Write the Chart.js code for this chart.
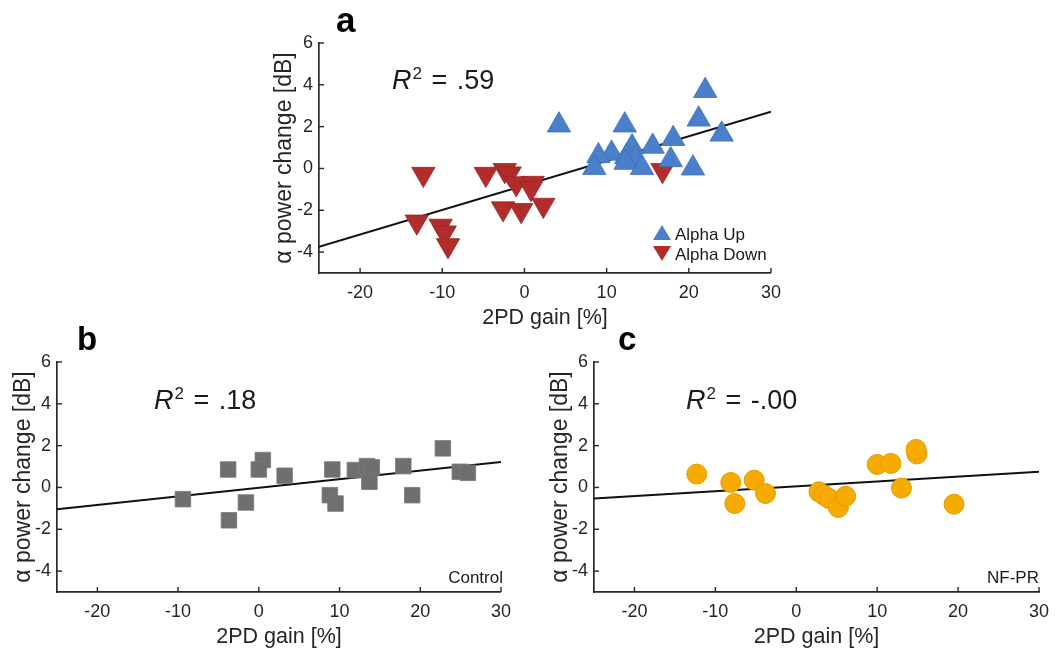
<!DOCTYPE html>
<html><head><meta charset="utf-8">
<script src="https://cdn.jsdelivr.net/npm/chart.js@4.4.1/dist/chart.umd.min.js"></script>
<style>
body{margin:0;background:#fff;width:1062px;height:653px;position:relative;overflow:hidden;font-family:"Liberation Sans",Arial,sans-serif;}
.box{position:absolute;}
.t{position:absolute;color:#1a1a1a;white-space:nowrap;line-height:1;}
.r2{font-size:27px;word-spacing:2px;}
.r2 i{font-style:italic;}
.r2 .s{font-size:17px;position:relative;top:-10px;margin-left:1px;}
.lett{font-weight:bold;color:#000;}
.tri{position:absolute;width:0;height:0;border-left:9px solid transparent;border-right:9px solid transparent;}
</style></head><body>
<div class="box" style="left:250px;top:0;width:540px;height:335px"><canvas id="cA"></canvas></div>
<div class="box" style="left:0;top:325px;width:520px;height:328px"><canvas id="cB"></canvas></div>
<div class="box" style="left:537px;top:325px;width:525px;height:328px"><canvas id="cC"></canvas></div>

<div class="t lett" style="left:336px;top:2px;font-size:35px">a</div>
<div class="t lett" style="left:77px;top:322px;font-size:33px">b</div>
<div class="t lett" style="left:618px;top:322px;font-size:33px">c</div>

<div class="t r2" style="left:392px;top:67px"><i>R</i><span class="s">2</span> = .59</div>
<div class="t r2" style="left:154px;top:387px"><i>R</i><span class="s">2</span> = .18</div>
<div class="t r2" style="left:686px;top:387px"><i>R</i><span class="s">2</span> = -.00</div>

<div class="tri" style="left:653px;top:225px;border-bottom:15px solid #4a7fcc"></div>
<div class="t" style="left:675px;top:226px;font-size:17px">Alpha Up</div>
<div class="tri" style="left:653px;top:246px;border-top:15px solid #b22c2c"></div>
<div class="t" style="left:675px;top:246px;font-size:17px">Alpha Down</div>

<div class="t" style="left:403px;top:569px;width:100px;text-align:right;font-size:17px">Control</div>
<div class="t" style="left:939px;top:569px;width:100px;text-align:right;font-size:17px">NF-PR</div>

<script>
// ---- data ----
const xTicks = [-20, -10, 0, 10, 20, 30];
const yTicks = [-4, -2, 0, 2, 4, 6];

// panel a
const upX = [4.2, 22.0, 21.2, 12.2, 24.0, 18.1, 15.6, 13.1, 10.6, 9.0, 12.4, 13.5, 12.3, 17.8, 8.5, 14.3, 20.5];
const upY = [2.07, 3.72, 2.35, 2.07, 1.63, 1.42, 1.05, 1.03, 0.72, 0.60, 0.56, 0.48, 0.28, 0.41, 0.03, 0.03, 0.01];
const downX = [-12.3, -4.7, -2.4, -1.8, -1.0, 1.0, 0.8, -2.6, -0.4, 2.3, -13.1, -10.2, -9.7, -9.3, 16.8];
const downY = [-0.27, -0.27, -0.09, -0.25, -0.72, -0.70, -0.95, -1.92, -2.00, -1.75, -2.55, -2.75, -3.07, -3.68, -0.09];
const fitAX = [-25, 30];
const fitAY = [-3.75, 2.71];

// panel b (Control)
const ctrlX = [-9.4, -3.8, -3.7, -1.6, 0.5, 0.0, 3.2, 9.1, 8.8, 9.5, 11.9, 13.4, 14.0, 13.7, 17.9, 19.0, 22.8, 24.9, 25.9];
const ctrlY = [-0.56, 0.86, -1.57, -0.72, 1.31, 0.86, 0.56, 0.86, -0.37, -0.77, 0.83, 1.02, 0.96, 0.27, 1.02, -0.37, 1.87, 0.75, 0.70];
const fitBX = [-25, 30];
const fitBY = [-1.04, 1.22];

// panel c (NF-PR)
const nfX = [-12.3, -8.1, -7.6, -5.2, -3.8, 2.8, 3.4, 4.05, 5.2, 6.1, 10.0, 11.7, 13.0, 14.9, 14.8, 19.5];
const nfY = [0.64, 0.24, -0.77, 0.35, -0.29, -0.21, -0.37, -0.53, -0.96, -0.42, 1.10, 1.15, -0.03, 1.60, 1.82, -0.80];
const fitCX = [-25, 30];
const fitCY = [-0.53, 0.75];

const pts = (xs, ys) => xs.map((x, i) => ({x, y: ys[i]}));

const innerTicks = {
  id: 'innerTicks',
  afterDraw(chart) {
    const {ctx, chartArea: a, scales: {x, y}} = chart;
    ctx.save();
    ctx.strokeStyle = '#262626';
    ctx.lineWidth = 1.4;
    x.ticks.forEach(t => {
      const px = x.getPixelForValue(t.value);
      ctx.beginPath(); ctx.moveTo(px, a.bottom); ctx.lineTo(px, a.bottom - 5); ctx.stroke();
    });
    y.ticks.forEach(t => {
      const py = y.getPixelForValue(t.value);
      ctx.beginPath(); ctx.moveTo(a.left, py); ctx.lineTo(a.left + 5, py); ctx.stroke();
    });
    ctx.restore();
  }
};

function makeChart(id, datasets, g) {
  const font = {family: '"Liberation Sans", Arial, sans-serif'};
  new Chart(document.getElementById(id), {
    type: 'scatter',
    data: {datasets},
    options: {
      responsive: true, maintainAspectRatio: false, animation: false, events: [],
      layout: {padding: {left: 0, top: g.top, right: g.right, bottom: 0}},
      plugins: {legend: {display: false}, tooltip: {enabled: false}},
      scales: {
        x: {
          type: 'linear', min: -25, max: 30,
          afterBuildTicks: s => { s.ticks = xTicks.map(v => ({value: v})); },
          afterFit: s => { s.height = g.xh; },
          grid: {display: false, drawTicks: false},
          border: {display: true, color: '#2a2a2a', width: 1.7},
          ticks: {color: '#262626', font: {...font, size: 18}, padding: 9, maxRotation: 0, autoSkip: false},
          title: {display: true, text: '2PD gain [%]', color: '#262626', font: {...font, size: 21.5}, padding: {bottom: g.xtp, top: 0}}
        },
        y: {
          type: 'linear', min: -5, max: 6,
          afterBuildTicks: s => { s.ticks = yTicks.map(v => ({value: v})); },
          afterFit: s => { s.width = g.yw; },
          grid: {display: false, drawTicks: false},
          border: {display: true, color: '#2a2a2a', width: 1.7},
          ticks: {color: '#262626', font: {...font, size: 18}, padding: 6, autoSkip: false},
          title: {display: true, text: 'α power change [dB]', color: '#262626', font: {...font, size: 23}, padding: {top: g.ytp, bottom: 0}}
        }
      }
    },
    plugins: [innerTicks]
  });
}

const lineDs = (xs, ys) => ({type: 'line', data: pts(xs, ys), borderColor: '#111', borderWidth: 2, pointRadius: 0, order: 2});

makeChart('cA', [
  lineDs(fitAX, fitAY),
  {data: pts(upX, upY), pointStyle: 'triangle', pointRadius: 13.5, backgroundColor: '#4a7fcc', borderColor: '#3f70b8', borderWidth: 0.8, order: 1},
  {data: pts(downX, downY), pointStyle: 'triangle', rotation: 180, pointRadius: 13.5, backgroundColor: '#b22c2c', borderColor: '#9c2424', borderWidth: 0.8, order: 1}
], {top: 43, right: 18, xh: 62, yw: 69, xtp: 4, ytp: 21});

makeChart('cB', [
  lineDs(fitBX, fitBY),
  {data: pts(ctrlX, ctrlY), pointStyle: 'rect', pointRadius: 11, backgroundColor: '#6f6f6f', borderColor: '#7a7a7a', borderWidth: 0.8, order: 1}
], {top: 37, right: 17, xh: 61, yw: 57, xtp: 3, ytp: 10});

makeChart('cC', [
  lineDs(fitCX, fitCY),
  {data: pts(nfX, nfY), pointStyle: 'circle', pointRadius: 10, backgroundColor: '#f7ab00', borderColor: '#e39c00', borderWidth: 1, order: 1}
], {top: 37, right: 23, xh: 61, yw: 57, xtp: 3, ytp: 10});
</script>
</body></html>
